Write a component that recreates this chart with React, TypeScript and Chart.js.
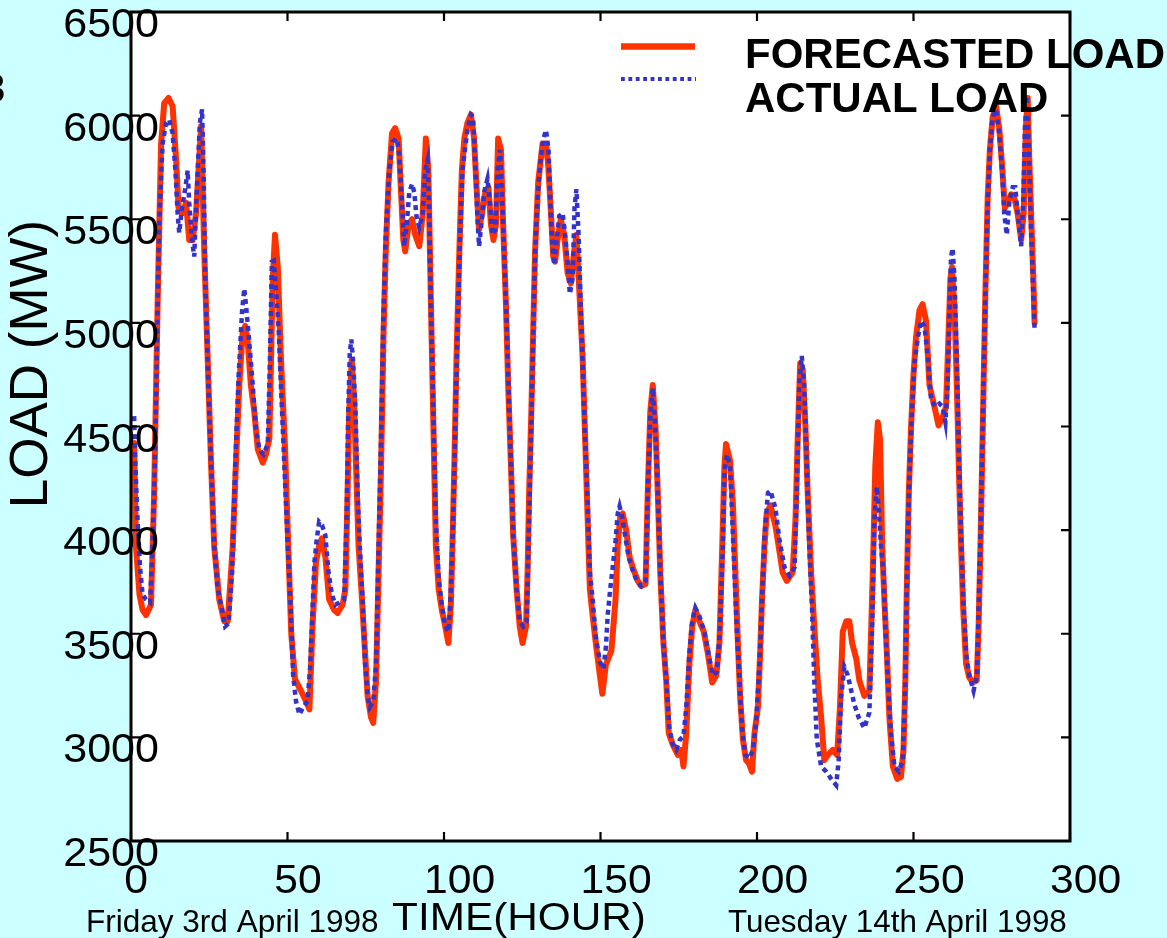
import React, { useEffect, useRef } from "react";
import { Chart, registerables } from "chart.js";

Chart.register(...registerables);

// ---- data ----
const forecastHours = [
  1, 1.6, 2.7, 3.7, 4.8, 6.4, 7.4, 8.5, 9.6, 10.6,
  12.0, 13.3, 14.4, 15.2, 16.5, 17.6, 18.6, 19.7, 20.8, 22.4,
  23.4, 24.5, 25.6, 26.6, 28.2, 29.8, 30.9, 32.5, 33.5, 34.6,
  35.7, 36.5, 37.3, 38.3, 39.4, 40.5, 42.1, 43.1, 44.2, 45.3,
  46.0, 46.9, 47.9, 49.2, 50.3, 51.2, 52.4, 54.3, 55.9, 57.0,
  58.0, 59.1, 60.1, 61.0, 62.1, 63.3, 64.9, 66.0, 67.6, 68.5,
  69.2, 69.7, 70.5, 71.2, 71.9, 72.7, 73.8, 74.8, 75.6, 76.7,
  77.4, 78.3, 79.1, 79.9, 80.7, 81.4, 82.3, 83.4, 84.4, 85.5,
  86.2, 87.0, 87.6, 88.7, 89.8, 90.8, 92.1, 93.2, 94.2, 95.0,
  95.5, 96.0, 96.7, 97.4, 98.3, 99.3, 100.4, 101.4, 102.2, 102.7,
  103.3, 104.0, 104.9, 105.7, 106.5, 107.5, 108.6, 109.6, 110.4, 111.2,
  112.1, 113.2, 114.2, 115.0, 115.8, 116.6, 117.3, 118.2, 118.9, 119.8,
  120.5, 121.4, 122.1, 123.2, 124.2, 125.1, 126.2, 126.7, 127.2, 127.9,
  128.5, 129.1, 130.1, 131.5, 132.6, 133.3, 134.2, 134.9, 135.5, 136.3,
  137.3, 138.4, 139.5, 140.5, 141.6, 142.3, 143.2, 144.3, 145.1, 145.9,
  146.6, 147.5, 148.7, 149.8, 150.6, 151.7, 153.5, 154.8, 155.5, 156.3,
  157.1, 158.2, 159.3, 160.3, 161.9, 163.0, 164.4, 165.1, 165.9, 166.7,
  167.6, 168.3, 169.1, 170.1, 171.0, 171.8, 173.1, 174.7, 175.8, 176.5,
  177.4, 178.4, 179.3, 180.3, 181.6, 183.0, 184.3, 185.7, 187.0, 188.0,
  188.9, 189.6, 190.1, 191.4, 192.3, 193.1, 193.9, 194.6, 195.5, 196.5,
  197.4, 198.4, 199.2, 200.3, 201.0, 201.6, 202.4, 203.1, 204.3, 205.9,
  207.2, 208.2, 209.5, 211.4, 212.3, 213.0, 213.8, 214.6, 215.5, 216.2,
  217.3, 218.3, 219.4, 220.5, 221.5, 222.6, 224.2, 225.6, 226.5, 227.4,
  228.5, 229.5, 230.4, 231.7, 232.7, 234.3, 235.9, 237.0, 237.8, 238.6,
  239.3, 240.0, 240.7, 241.5, 242.3, 243.4, 244.8, 246.0, 246.8, 247.4,
  247.8, 248.5, 249.2, 250.0, 250.8, 251.9, 252.9, 254.0, 255.1, 256.7,
  258.0, 259.3, 260.4, 261.1, 261.8, 262.3, 263.1, 263.6, 264.1, 264.6,
  265.2, 265.9, 266.8, 267.8, 268.9, 270.2, 270.8, 271.4, 271.9, 272.4,
  273.0, 273.7, 274.4, 275.3, 276.4, 277.4, 278.3, 279.2, 280.1, 281.2,
  282.2, 283.3, 284.4, 285.2, 285.9, 286.5, 287.0, 287.7, 288.3, 288.7,
];
const forecastLoad = [
  4420, 3920, 3690, 3615, 3590, 3640, 4180, 5090, 5860, 6060,
  6085, 6045, 5790, 5555, 5530, 5580, 5400, 5400, 5530, 5950,
  5350, 4830, 4310, 3920, 3665, 3560, 3560, 3920, 4310, 4700,
  4960, 4985, 4905, 4700, 4570, 4390, 4325, 4365, 4440, 5215,
  5425, 5270, 4830, 4400, 3900, 3500, 3280, 3225, 3175, 3135,
  3535, 3845, 3925, 3960, 3870, 3665, 3615, 3600, 3640, 3715,
  4180, 4570, 4820, 4650, 4310, 3925, 3665, 3405, 3200, 3095,
  3070, 3275, 3795, 4310, 4960, 5345, 5680, 5915, 5940, 5890,
  5655, 5400, 5345, 5475, 5500, 5425, 5370, 5525, 5890, 5735,
  5345, 4960, 4440, 3925, 3715, 3615, 3535, 3455, 3640, 3925,
  4310, 4830, 5345, 5735, 5890, 5965, 6005, 5890, 5655, 5450,
  5525, 5630, 5655, 5475, 5400, 5475, 5890, 5835, 5475, 5085,
  4700, 4310, 3975, 3715, 3535, 3455, 3535, 3795, 4180, 4570,
  4960, 5345, 5680, 5865, 5865, 5760, 5525, 5320, 5295, 5400,
  5500, 5425, 5240, 5190, 5345, 5425, 5165, 4830, 4440, 4050,
  3715, 3585, 3430, 3300, 3210, 3350, 3420, 3665, 3925, 4065,
  4080, 4000, 3870, 3820, 3755, 3730, 3740, 4180, 4570, 4700,
  4490, 4180, 3795, 3455, 3275, 3020, 2965, 2915, 2940, 2860,
  3020, 3355, 3535, 3615, 3560, 3510, 3405, 3265, 3300, 3455,
  3925, 4310, 4415, 4335, 4130, 3795, 3455, 3200, 2990, 2890,
  2875, 2835, 3020, 3145, 3405, 3665, 3925, 4080, 4120, 4020,
  3895, 3795, 3755, 3795, 4050, 4440, 4805, 4775, 4490, 4180,
  3795, 3535, 3275, 3095, 2890, 2915, 2940, 2915, 3145, 3510,
  3560, 3560, 3455, 3380, 3275, 3200, 3225, 3795, 4310, 4520,
  4440, 3925, 3665, 3405, 3095, 2860, 2800, 2810, 2940, 3275,
  3665, 4180, 4490, 4750, 4930, 5060, 5090, 5010, 4700, 4595,
  4505, 4545, 4595, 4905, 5215, 5270, 5060, 4830, 4545, 4235,
  3925, 3615, 3355, 3290, 3265, 3275, 3535, 3925, 4310, 4700,
  5165, 5605, 5835, 5995, 6045, 5940, 5760, 5555, 5580, 5620,
  5605, 5525, 5400, 5525, 5940, 6085, 5785, 5475, 5215, 5000,
];

const actualHours = [
  1, 1.4, 2.1, 2.9, 3.7, 4.8, 6.1, 6.9, 7.8, 8.5,
  9.0, 10.1, 11.2, 12.2, 13.3, 14.2, 14.9, 15.4, 16.3, 17.4,
  18.1, 18.6, 19.5, 20.2, 21.3, 22.0, 22.7, 23.2, 23.7, 24.5,
  25.6, 26.6, 27.7, 28.8, 30.1, 31.2, 32.3, 33.3, 34.4, 35.5,
  36.2, 36.9, 37.8, 38.9, 39.9, 41.0, 42.3, 43.7, 44.4, 45.0,
  45.6, 46.3, 47.2, 47.9, 49.0, 50.1, 51.1, 51.8, 52.7, 53.8,
  55.0, 56.4, 57.2, 57.8, 58.6, 59.3, 60.1, 61.0, 62.1, 63.1,
  64.2, 65.3, 66.5, 68.1, 68.9, 69.4, 69.9, 70.4, 71.0, 71.7,
  72.4, 73.1, 74.0, 74.8, 75.6, 76.3, 77.4, 78.3, 79.1, 79.9,
  80.6, 81.4, 82.5, 83.6, 84.9, 85.7, 86.5, 87.3, 88.1, 88.9,
  89.8, 90.5, 91.2, 92.1, 93.2, 94.0, 94.8, 95.3, 95.8, 96.4,
  96.9, 97.4, 98.3, 99.3, 100.4, 101.5, 102.2, 102.9, 103.6, 104.3,
  105.1, 105.9, 106.8, 107.5, 108.6, 109.3, 110.0, 110.7, 111.2, 112.1,
  112.8, 113.9, 114.7, 115.5, 116.4, 117.1, 117.9, 118.5, 119.2, 120.0,
  120.6, 121.4, 122.1, 123.2, 124.2, 125.3, 126.4, 127.0, 127.8, 128.5,
  129.1, 129.9, 131.0, 131.8, 132.6, 133.4, 133.9, 134.5, 135.2, 136.0,
  136.8, 137.9, 138.7, 139.5, 140.2, 141.1, 141.7, 142.3, 143.0, 143.7,
  144.5, 145.1, 145.9, 146.6, 147.5, 148.5, 149.8, 150.9, 151.7, 152.3,
  153.1, 153.9, 154.8, 155.5, 156.1, 156.9, 158.0, 159.0, 160.3, 161.6,
  163.0, 164.4, 165.1, 165.9, 166.7, 167.6, 168.3, 169.1, 170.1, 171.0,
  172.0, 173.1, 174.2, 175.4, 176.5, 177.4, 178.4, 179.3, 180.3, 181.6,
  183.2, 184.8, 185.9, 187.2, 188.2, 189.1, 189.6, 190.4, 191.4, 192.1,
  192.8, 193.5, 194.4, 195.2, 196.3, 197.6, 198.7, 199.7, 200.8, 201.6,
  202.4, 203.5, 204.3, 205.9, 207.2, 208.8, 210.4, 212.0, 212.7, 213.5,
  214.3, 215.1, 215.9, 216.7, 217.6, 218.3, 219.1, 220.5, 222.1, 223.7,
  225.3, 226.1, 226.9, 227.9, 229.0, 230.1, 231.1, 232.5, 234.3, 235.9,
  236.8, 237.5, 238.3, 238.9, 239.6, 240.4, 241.0, 241.8, 242.8, 243.9,
  245.3, 246.6, 247.4, 247.9, 248.7, 249.5, 250.3, 251.4, 252.4, 253.5,
  254.6, 255.6, 257.0, 258.3, 259.3, 260.2, 260.9, 261.5, 262.0, 262.5,
  263.1, 263.6, 264.1, 264.6, 265.2, 265.9, 266.8, 267.8, 269.2, 270.3,
  270.8, 271.4, 271.9, 272.4, 273.0, 273.7, 274.4, 275.3, 276.4, 277.4,
  278.3, 279.0, 279.8, 280.6, 281.7, 282.5, 283.3, 284.4, 285.1, 285.6,
  286.2, 286.8, 287.4, 288.1, 288.7,
];
const actualLoad = [
  4550, 4310, 4050, 3820, 3690, 3665, 3650, 3925, 4440, 5085,
  5475, 5865, 5965, 5980, 5915, 5735, 5525, 5435, 5555, 5655,
  5735, 5580, 5400, 5320, 5735, 5965, 6030, 5735, 5215, 4805,
  4310, 3925, 3715, 3640, 3535, 3550, 3795, 4310, 4750, 5060,
  5165, 5060, 4905, 4700, 4490, 4390, 4365, 4415, 4830, 5295,
  5300, 5165, 4960, 4700, 4310, 3925, 3600, 3300, 3175, 3110,
  3145, 3175, 3330, 3535, 3845, 3950, 4040, 4025, 3975, 3795,
  3690, 3640, 3650, 3665, 4050, 4570, 4855, 4920, 4805, 4595,
  4180, 3925, 3665, 3355, 3200, 3145, 3175, 3355, 3925, 4440,
  5010, 5425, 5735, 5875, 5890, 5810, 5605, 5370, 5475, 5630,
  5670, 5630, 5515, 5460, 5525, 5735, 5785, 5525, 5085, 4700,
  4365, 4050, 3770, 3640, 3535, 3510, 3715, 4050, 4490, 4960,
  5400, 5735, 5850, 5930, 6005, 5995, 5760, 5500, 5370, 5500,
  5630, 5695, 5580, 5425, 5450, 5735, 5835, 5630, 5345, 5010,
  4700, 4310, 3975, 3715, 3560, 3535, 3560, 3925, 4440, 4960,
  5345, 5605, 5810, 5890, 5930, 5835, 5605, 5400, 5280, 5400,
  5515, 5530, 5425, 5295, 5140, 5215, 5555, 5645, 5425, 5085,
  4700, 4440, 4130, 3795, 3665, 3485, 3365, 3330, 3430, 3590,
  3715, 3820, 3950, 4080, 4115, 4065, 3960, 3870, 3805, 3755,
  3730, 3755, 4180, 4545, 4685, 4465, 4180, 3795, 3455, 3275,
  3045, 2965, 2940, 2990, 3005, 3145, 3405, 3560, 3625, 3585,
  3510, 3380, 3300, 3315, 3535, 3925, 4285, 4365, 4310, 4050,
  3795, 3535, 3275, 3045, 2915, 2900, 2940, 3070, 3355, 3665,
  3975, 4180, 4190, 4105, 3950, 3820, 3780, 3820, 4180, 4700,
  4840, 4700, 4310, 3925, 3615, 3275, 2990, 2860, 2835, 2800,
  2770, 2890, 3200, 3340, 3300, 3225, 3160, 3095, 3045, 3120,
  3535, 4050, 4210, 4105, 3925, 3795, 3535, 3275, 3020, 2860,
  2835, 2890, 3275, 3795, 4260, 4570, 4805, 4930, 5010, 4985,
  4830, 4630, 4595, 4610, 4595, 4520, 4700, 5060, 5320, 5360,
  5215, 4960, 4645, 4310, 3975, 3665, 3405, 3300, 3225, 3300,
  3615, 3975, 4365, 4750, 5165, 5580, 5835, 5995, 6030, 5915,
  5735, 5525, 5425, 5580, 5655, 5655, 5525, 5370, 5605, 5940,
  6095, 5865, 5525, 5215, 4960,
];

const xRange = [0, 300];
const xStep = 50;
const yRange = [2500, 6500];
const yStep = 500;

const seriesNames = ["FORECASTED LOAD", "ACTUAL LOAD"];
const xTitle = "TIME(HOUR)";
const yTitle = "LOAD (MW)";
const startDateLabel = "Friday 3rd April 1998";
const endDateLabel = "Tuesday 14th April 1998";
const cornerGlyph = "3";

// ---- styles ----
const RED = "#ff3300";
const BLUE = "#3333cc";
const PAGE_BG = "#ccffff";
const FONT = "'Liberation Sans', Arial, Helvetica, sans-serif";

function drawText(
  ctx: CanvasRenderingContext2D,
  s: string,
  x: number,
  y: number,
  font: string,
  align: CanvasTextAlign,
  sx = 1
) {
  ctx.save();
  ctx.font = font;
  ctx.textAlign = align;
  ctx.textBaseline = "alphabetic";
  ctx.fillStyle = "#000000";
  ctx.translate(x, y);
  ctx.scale(sx, 1);
  ctx.fillText(s, 0, 0);
  ctx.restore();
}

const decorPlugin = {
  id: "matlabDecor",
  beforeDraw(chart: any) {
    const { ctx, chartArea: a, width, height } = chart;
    ctx.save();
    ctx.fillStyle = PAGE_BG;
    ctx.fillRect(0, 0, width, height);
    ctx.fillStyle = "#ffffff";
    ctx.fillRect(a.left, a.top, a.right - a.left, a.bottom - a.top);
    ctx.restore();
  },
  afterDatasetsDraw(chart: any) {
    const { ctx, chartArea: a } = chart;
    const xs = chart.scales.x;
    const ys = chart.scales.y;

    // frame
    ctx.save();
    ctx.strokeStyle = "#000000";
    ctx.lineWidth = 3;
    ctx.setLineDash([]);
    ctx.strokeRect(a.left, a.top, a.right - a.left, a.bottom - a.top);

    // inward ticks on all four sides
    const tl = 9;
    ctx.lineWidth = 2.2;
    ctx.beginPath();
    xs.ticks.forEach((t: any) => {
      const px = xs.getPixelForValue(t.value);
      ctx.moveTo(px, a.bottom);
      ctx.lineTo(px, a.bottom - tl);
      ctx.moveTo(px, a.top);
      ctx.lineTo(px, a.top + tl);
    });
    ys.ticks.forEach((t: any) => {
      const py = ys.getPixelForValue(t.value);
      ctx.moveTo(a.left, py);
      ctx.lineTo(a.left + tl, py);
      ctx.moveTo(a.right, py);
      ctx.lineTo(a.right - tl, py);
    });
    ctx.stroke();
    ctx.restore();

    // tick labels
    const tickFont = `41px ${FONT}`;
    ys.ticks.forEach((t: any) => {
      const py = ys.getPixelForValue(t.value);
      drawText(ctx, String(t.value), a.left + 28, py + 25, tickFont, "right", 1.05);
    });
    ctx.save();
    ctx.font = tickFont;
    xs.ticks.forEach((t: any) => {
      const px = xs.getPixelForValue(t.value);
      const label = String(t.value);
      const w = ctx.measureText(label).width * 1.04;
      drawText(ctx, label, px + 0.22 * w, a.bottom + 52, tickFont, "center", 1.04);
    });
    ctx.restore();

    // axis titles and date notes
    drawText(ctx, xTitle, 519, 930, `39px ${FONT}`, "center", 1.085);
    drawText(ctx, startDateLabel, 86, 932, `32px ${FONT}`, "left", 0.985);
    drawText(ctx, endDateLabel, 728, 932, `32px ${FONT}`, "left", 0.98);

    ctx.save();
    ctx.translate(46.5, 364);
    ctx.rotate(-Math.PI / 2);
    ctx.font = `53px ${FONT}`;
    ctx.fillStyle = "#000000";
    ctx.textAlign = "center";
    ctx.textBaseline = "alphabetic";
    ctx.fillText(yTitle, 0, 0);
    ctx.restore();

    drawText(ctx, cornerGlyph, 5.5, 102, `41px ${FONT}`, "right", 1.0);

    // legend
    ctx.save();
    ctx.lineCap = "butt";
    ctx.strokeStyle = RED;
    ctx.lineWidth = 6.5;
    ctx.beginPath();
    ctx.moveTo(621, 46.5);
    ctx.lineTo(695, 46.5);
    ctx.stroke();
    ctx.strokeStyle = BLUE;
    ctx.lineWidth = 4.2;
    ctx.setLineDash([3.8, 3.6]);
    ctx.beginPath();
    ctx.moveTo(621, 79);
    ctx.lineTo(696, 79);
    ctx.stroke();
    ctx.restore();
    drawText(ctx, seriesNames[0], 745, 68, `bold 42px ${FONT}`, "left", 1.0);
    drawText(ctx, seriesNames[1], 745, 112, `bold 42px ${FONT}`, "left", 1.0);
  },
};

export default function App() {
  const ref = useRef<HTMLCanvasElement | null>(null);

  useEffect(() => {
    const canvas = ref.current;
    if (!canvas) return;
    const forecastData = forecastHours.map((h, i) => ({ x: h, y: forecastLoad[i] }));
    const actualData = actualHours.map((h, i) => ({ x: h, y: actualLoad[i] }));

    const chart = new Chart(canvas, {
      type: "line",
      data: {
        datasets: [
          {
            label: seriesNames[0],
            data: forecastData,
            borderColor: RED,
            backgroundColor: RED,
            borderWidth: 6,
            pointRadius: 0,
            tension: 0,
            fill: false,
            order: 2,
            borderJoinStyle: "round",
            borderCapStyle: "round",
          },
          {
            label: seriesNames[1],
            data: actualData,
            borderColor: BLUE,
            backgroundColor: BLUE,
            borderWidth: 4.5,
            borderDash: [5, 4],
            pointRadius: 0,
            tension: 0,
            fill: false,
            order: 1,
            borderCapStyle: "butt",
          },
        ],
      },
      options: {
        animation: false,
        responsive: false,
        devicePixelRatio: 1,
        events: [],
        layout: { padding: { left: 131, top: 12, right: 97, bottom: 97 } },
        scales: {
          x: {
            type: "linear",
            min: xRange[0],
            max: xRange[1],
            display: false,
            ticks: { stepSize: xStep },
          },
          y: {
            type: "linear",
            min: yRange[0],
            max: yRange[1],
            display: false,
            ticks: { stepSize: yStep },
          },
        },
        plugins: {
          legend: { display: false },
          tooltip: { enabled: false },
        },
      },
      plugins: [decorPlugin],
    } as any);

    return () => chart.destroy();
  }, []);

  return (
    <div
      style={{
        position: "fixed",
        left: 0,
        top: 0,
        width: 1167,
        height: 938,
        background: PAGE_BG,
        overflow: "hidden",
      }}
    >
      <canvas ref={ref} width={1167} height={938} style={{ display: "block" }} />
    </div>
  );
}
